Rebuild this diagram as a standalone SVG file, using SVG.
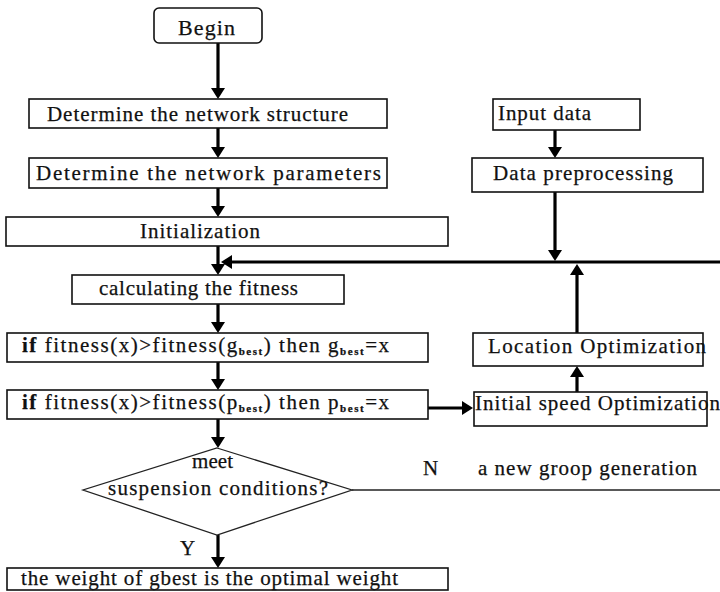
<svg xmlns="http://www.w3.org/2000/svg" width="720" height="592" viewBox="0 0 720 592">
  <style>
    .box { fill: #fff; stroke: #111; stroke-width: 1.6; }
    .lbl { font-family: "Liberation Serif", "Times New Roman", "DejaVu Serif", serif; font-size: 21px; fill: #111; stroke: #111; stroke-width: 0.25; }
    .sub { font-size: 11px; font-weight: bold; }
    .flow { stroke: #000; stroke-width: 3.2; fill: none; }
    .thin { stroke: #222; stroke-width: 1.6; fill: none; }
  </style>
  <defs>
    <marker id="head" markerUnits="userSpaceOnUse" markerWidth="12" markerHeight="14" refX="0" refY="7" orient="auto">
      <path d="M0,0 L11,7 L0,14 z" fill="#000"/>
    </marker>
  </defs>

  <rect width="720" height="592" fill="#fff"/>

  <!-- connectors -->
  <g id="connectors">
    <line class="flow" x1="218" y1="43" x2="218" y2="88" marker-end="url(#head)"/>
    <line class="flow" x1="218" y1="128" x2="218" y2="147" marker-end="url(#head)"/>
    <line class="flow" x1="218" y1="188" x2="218" y2="206" marker-end="url(#head)"/>
    <line class="flow" x1="218" y1="246" x2="218" y2="264" marker-end="url(#head)"/>
    <line class="flow" x1="720" y1="262" x2="232" y2="262" marker-end="url(#head)"/>
    <line class="flow" x1="218" y1="304" x2="218" y2="322" marker-end="url(#head)"/>
    <line class="flow" x1="218" y1="362" x2="218" y2="379" marker-end="url(#head)"/>
    <line class="flow" x1="218" y1="419" x2="218" y2="437" marker-end="url(#head)"/>
    <line class="flow" x1="218" y1="535" x2="218" y2="557" marker-end="url(#head)"/>
    <line class="flow" x1="555" y1="130" x2="555" y2="147" marker-end="url(#head)"/>
    <line class="flow" x1="555" y1="192" x2="555" y2="250" marker-end="url(#head)"/>
    <line class="flow" x1="577" y1="333" x2="577" y2="275" marker-end="url(#head)"/>
    <line class="flow" x1="577" y1="392" x2="577" y2="377" marker-end="url(#head)"/>
    <line class="flow" x1="428" y1="408" x2="462" y2="408" marker-end="url(#head)"/>
    <line class="thin" x1="352" y1="490" x2="720" y2="490"/>
    <text class="lbl" x="423" y="475" textLength="17">N</text>
    <text class="lbl" x="478" y="475" textLength="219" lengthAdjust="spacing">a new groop generation</text>
    <text class="lbl" x="180" y="555" textLength="17">Y</text>
  </g>

  <g id="begin">
    <rect class="box" x="154" y="8" width="108" height="35" rx="5"/>
    <text class="lbl" x="178" y="35" textLength="57" style="font-size:22px">Begin</text>
  </g>

  <g id="structure">
    <rect class="box" x="29" y="99" width="358" height="29"/>
    <text class="lbl" x="47" y="121" textLength="301" lengthAdjust="spacing">Determine the network structure</text>
  </g>

  <g id="parameters">
    <rect class="box" x="29" y="158" width="358" height="30"/>
    <text class="lbl" x="36" y="180" textLength="345" lengthAdjust="spacing">Determine the network parameters</text>
  </g>

  <g id="initialization">
    <rect class="box" x="6" y="217" width="442" height="29"/>
    <text class="lbl" x="140" y="238" textLength="120" lengthAdjust="spacing">Initialization</text>
  </g>

  <g id="fitness">
    <rect class="box" x="72" y="275" width="272" height="29"/>
    <text class="lbl" x="99" y="295" textLength="199" lengthAdjust="spacing">calculating the fitness</text>
  </g>

  <g id="gbest">
    <rect class="box" x="7" y="333" width="421" height="29"/>
    <text class="lbl" x="22" y="352" textLength="367" lengthAdjust="spacing"><tspan font-weight="bold">if</tspan> fitness(x)&gt;fitness(g<tspan class="sub" dy="3">best</tspan><tspan dy="-3">) then g</tspan><tspan class="sub" dy="3">best</tspan><tspan dy="-3">=x</tspan></text>
  </g>

  <g id="pbest">
    <rect class="box" x="7" y="390" width="421" height="29"/>
    <text class="lbl" x="22" y="409" textLength="367" lengthAdjust="spacing"><tspan font-weight="bold">if</tspan> fitness(x)&gt;fitness(p<tspan class="sub" dy="3">best</tspan><tspan dy="-3">) then p</tspan><tspan class="sub" dy="3">best</tspan><tspan dy="-3">=x</tspan></text>
  </g>

  <g id="suspension">
    <polygon points="217,448 352,490 217,535 83,490" fill="#fff" stroke="#222" stroke-width="1.3"/>
    <text class="lbl" x="192" y="468" textLength="41">meet</text>
    <text class="lbl" x="108" y="495" textLength="220" lengthAdjust="spacing">suspension conditions?</text>
  </g>

  <g id="result">
    <rect class="box" x="7" y="568" width="441" height="22"/>
    <text class="lbl" x="21" y="585" textLength="377" lengthAdjust="spacing">the weight of gbest is the optimal weight</text>
  </g>

  <g id="input">
    <rect class="box" x="493" y="99" width="147" height="31"/>
    <text class="lbl" x="498" y="120" textLength="93" lengthAdjust="spacing">Input data</text>
  </g>

  <g id="preprocessing">
    <rect class="box" x="472" y="158" width="231" height="34"/>
    <text class="lbl" x="493" y="180" textLength="180" lengthAdjust="spacing">Data preprocessing</text>
  </g>

  <g id="location">
    <rect class="box" x="473" y="333" width="230" height="33"/>
    <text class="lbl" x="488" y="353" textLength="218" lengthAdjust="spacing">Location Optimization</text>
  </g>

  <g id="speed">
    <rect class="box" x="474" y="392" width="233" height="34"/>
    <text class="lbl" x="475" y="410" textLength="245" lengthAdjust="spacing">Initial speed Optimization</text>
  </g>
</svg>
